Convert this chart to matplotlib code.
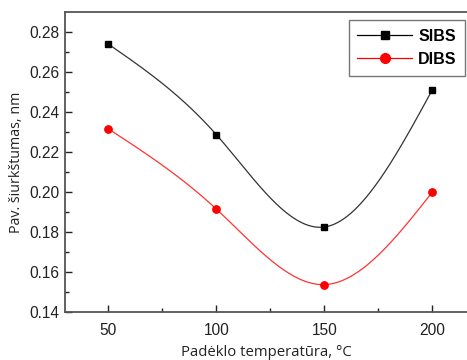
import matplotlib
matplotlib.use("Agg")
import matplotlib.pyplot as plt
import numpy as np

temps = [50, 100, 150, 200]
sibs = [0.2740, 0.2287, 0.1825, 0.2512]
dibs = [0.2316, 0.1915, 0.1537, 0.2000]


def natural_spline(x, y, n=200):
    # plain natural cubic spline, only used to draw the smooth connecting curve
    x = np.asarray(x, float)
    y = np.asarray(y, float)
    k = len(x)
    h = np.diff(x)
    A = np.zeros((k, k))
    b = np.zeros(k)
    A[0, 0] = A[-1, -1] = 1.0
    for i in range(1, k - 1):
        A[i, i - 1] = h[i - 1]
        A[i, i] = 2 * (h[i - 1] + h[i])
        A[i, i + 1] = h[i]
        b[i] = 6 * ((y[i + 1] - y[i]) / h[i] - (y[i] - y[i - 1]) / h[i - 1])
    m = np.linalg.solve(A, b)
    xs = np.linspace(x[0], x[-1], n)
    idx = np.clip(np.searchsorted(x, xs) - 1, 0, k - 2)
    t0 = xs - x[idx]
    t1 = x[idx + 1] - xs
    hi = h[idx]
    ys = (m[idx] * t1**3 + m[idx + 1] * t0**3) / (6 * hi) \
        + (y[idx] / hi - m[idx] * hi / 6) * t1 \
        + (y[idx + 1] / hi - m[idx + 1] * hi / 6) * t0
    return xs, ys


plt.rcParams["font.family"] = ["Liberation Sans", "DejaVu Sans"]

fig = plt.figure(figsize=(4.67, 3.6), dpi=100)
ax = fig.add_axes([65 / 467, 48 / 360, 1 - 65 / 467, 300 / 360])

xs, ys = natural_spline(temps, sibs)
ax.plot(xs, ys, color="#333333", lw=0.9)
xs, ys = natural_spline(temps, dibs)
ax.plot(xs, ys, color="#ff3333", lw=0.9)
ax.plot(temps, sibs, ls="none", marker="s", ms=4.6, color="black")
ax.plot(temps, dibs, ls="none", marker="o", ms=5.3, color="red")

# legend proxies
ax.plot([], [], color="black", lw=0.9, marker="s", ms=6, label="SIBS")
ax.plot([], [], color="red", lw=0.9, marker="o", ms=7, label="DIBS")
leg = ax.legend(loc="upper right", bbox_to_anchor=(0.996, 0.973), frameon=True,
                fancybox=False, edgecolor="#555555", handlelength=3.4,
                borderpad=0.55, labelspacing=0.5, handletextpad=0.4,
                borderaxespad=0.0,
                prop={"weight": "bold", "size": 11.5})
leg.get_frame().set_linewidth(1.0)

ax.set_xlim(30, 216)
ax.set_ylim(0.14, 0.29)
ax.set_xticks(temps)
ax.set_xticks([75, 125, 175], minor=True)
ax.set_yticks([0.14, 0.16, 0.18, 0.20, 0.22, 0.24, 0.26, 0.28])
ax.set_yticks(np.arange(0.15, 0.29, 0.02), minor=True)
ax.set_yticklabels([f"{v:.2f}" for v in ax.get_yticks()])
ax.tick_params(direction="in", which="both", labelsize=11.2, colors="#222222")
ax.tick_params(which="major", length=5, width=1)
ax.tick_params(which="minor", length=3, width=1)
ax.tick_params(axis="x", pad=8)
ax.tick_params(axis="y", pad=4)

for side in ["left", "bottom", "top"]:
    ax.spines[side].set_color("#555555")
    ax.spines[side].set_linewidth(1.3)
ax.spines["right"].set_visible(False)

ax.set_xlabel("Padėklo temperatūra, °C", family=["Open Sans", "DejaVu Sans"],
              fontsize=10.7, color="#222222", labelpad=5)
ax.set_ylabel("Pav. šiurkštumas, nm", family=["Open Sans", "DejaVu Sans"],
              fontsize=10.3, color="#222222", labelpad=4)

fig.savefig("out.png", dpi=100)
